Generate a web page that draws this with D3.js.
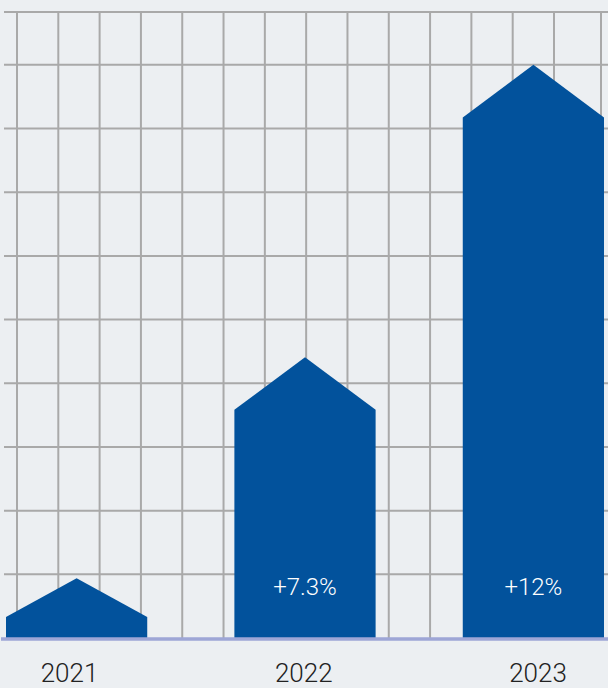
<!DOCTYPE html>
<html>
<head>
<meta charset="utf-8">
<script src="https://cdn.jsdelivr.net/npm/d3@7"></script>
<style>
  html, body { margin: 0; padding: 0; background: #eceff2; }
  svg { display: block; font-family: Roboto, "Noto Sans", sans-serif; font-weight: 300; }
</style>
</head>
<body>
<div id="chart"></div>
<script>
// data (units = one grid row)
const years = ["2021", "2022", "2023"];
const values = [0.94, 4.41, 9.0];
const growth = ["", "+7.3%", "+12%"];
const yTicks = [1, 2, 3, 4, 5, 6, 7, 8, 9];
const xTicks = [0, 1, 2, 3, 4, 5, 6, 7, 8, 9, 10, 11, 12, 13];

const width = 608, height = 688;
const baseY = 638, topY = 12;

const svg = d3.select("#chart")
  .append("svg")
    .attr("width", width)
    .attr("height", height);

svg.append("rect")
  .attr("width", width)
  .attr("height", height)
  .attr("fill", "#eceff2");

// y scale: grid rows of ~63.7px
const y = d3.scaleLinear()
  .domain([0, 9.83])
  .range([baseY, topY]);

// x grid scale: columns of ~41.3px
const gx = d3.scaleLinear()
  .domain([0, 13])
  .range([17, 554]);

const x = d3.scaleBand()
  .domain(years)
  .range([6, 604])
  .paddingInner(0.3816)
  .paddingOuter(0);

// year labels sit a little apart from the bar centres
const xl = d3.scalePoint()
  .domain(years)
  .range([69.5, 538]);

const grid = svg.append("g")
  .attr("stroke", "#a9a9a9")
  .attr("stroke-width", 2);

// horizontal grid lines + top border
grid.selectAll(".h")
  .data(yTicks.concat([9.83]))
  .enter()
  .append("line")
    .attr("x1", 4)
    .attr("x2", width)
    .attr("y1", d => y(d))
    .attr("y2", d => y(d));

// vertical grid lines + right border
grid.selectAll(".v")
  .data(xTicks.map(d => gx(d)).concat([601]))
  .enter()
  .append("line")
    .attr("x1", d => d)
    .attr("x2", d => d)
    .attr("y1", y(9.83) - 1)
    .attr("y2", baseY);

// arrow-shaped bars
svg.append("g")
  .selectAll("path")
  .data(years)
  .enter()
  .append("path")
    .attr("fill", "#02529c")
    .attr("d", function (d, i) {
      let x0 = x(d), x1 = x(d) + x.bandwidth(), xm = x0 + x.bandwidth() / 2;
      let tip = y(values[i]);
      let h = baseY - tip;
      let head = Math.min(52.6, h * 0.65);
      return "M" + x0 + "," + baseY +
        "L" + x0 + "," + (tip + head) +
        "L" + xm + "," + tip +
        "L" + x1 + "," + (tip + head) +
        "L" + x1 + "," + baseY + "Z";
    });

// growth labels inside bars
svg.append("g")
  .selectAll("text")
  .data(years)
  .enter()
  .append("text")
    .attr("x", d => x(d) + x.bandwidth() / 2)
    .attr("y", 595)
    .attr("text-anchor", "middle")
    .attr("fill", "#ffffff")
    .attr("font-size", 24)
    .text((d, i) => growth[i]);

// baseline
svg.append("line")
  .attr("x1", 1)
  .attr("x2", width)
  .attr("y1", 639)
  .attr("y2", 639)
  .attr("stroke", "#9ea6d6")
  .attr("stroke-width", 3.5);

// year labels
svg.append("g")
  .selectAll("text")
  .data(years)
  .enter()
  .append("text")
    .attr("x", d => xl(d))
    .attr("y", 682)
    .attr("text-anchor", "middle")
    .attr("fill", "#222222")
    .attr("font-size", 26)
    .text(d => d);
</script>
</body>
</html>
